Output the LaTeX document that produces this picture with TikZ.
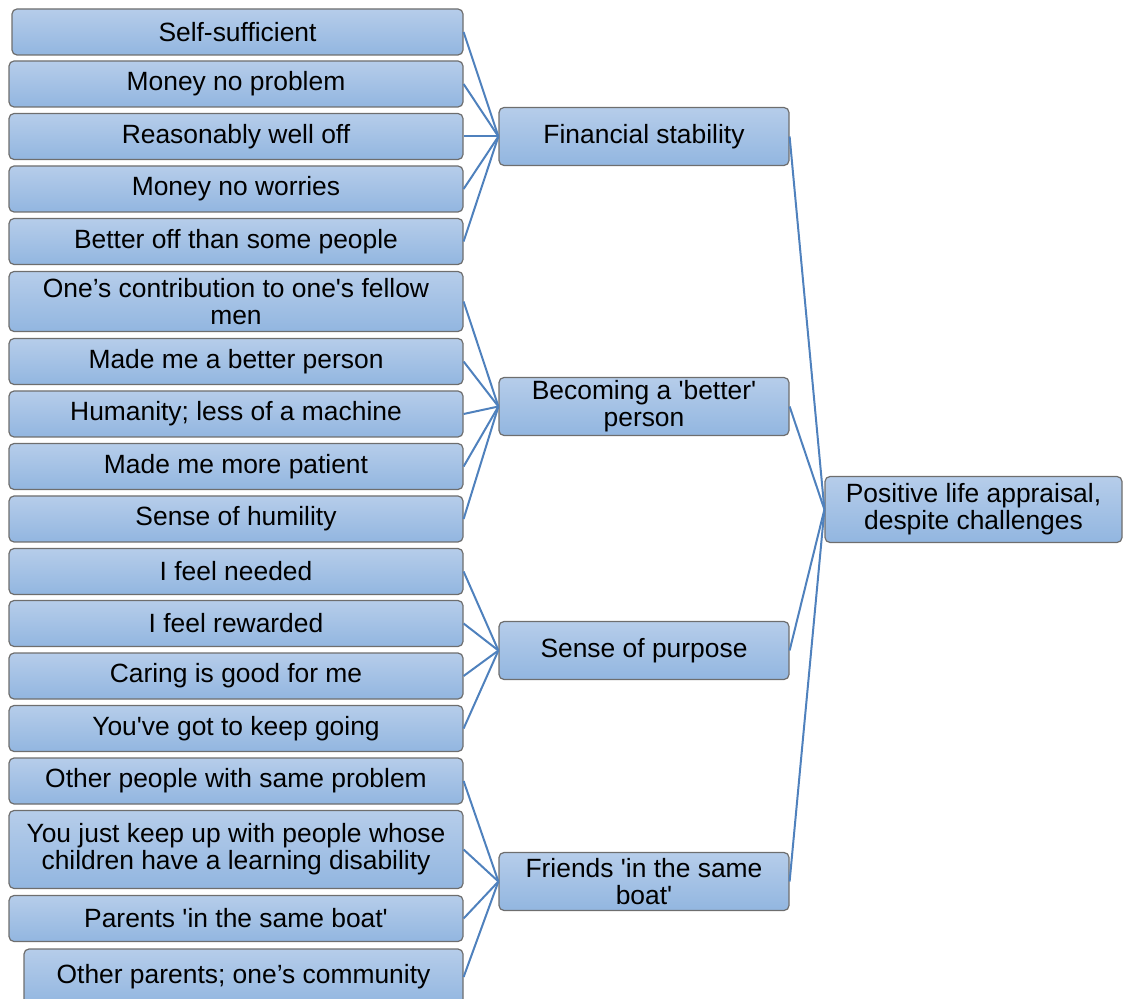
\documentclass[tikz,border=0pt]{standalone}
\usepackage{fontspec}
\setmainfont{Liberation Sans}
\newcommand\sq{\textquotesingle}
\definecolor{linkblue}{RGB}{79,129,189}
\definecolor{boxtop}{RGB}{182,205,234}
\definecolor{boxbot}{RGB}{146,182,224}
\definecolor{boxedge}{RGB}{110,110,110}
\begin{document}
\begin{tikzpicture}[x=0.5pt,y=-0.5pt,
  card/.style={draw=boxedge, line width=0.6pt, rounded corners=2.5pt,
    top color=boxtop, bottom color=boxbot, inner sep=0pt, align=center,
    font=\fontsize{13.2}{13.6}\selectfont},
  leaf/.style={card, minimum width=227pt, minimum height=23pt},
  theme/.style={card, minimum width=145pt, minimum height=29pt},
  link/.style={draw=linkblue, line width=1pt}]
\useasboundingbox (0,0) rectangle (1124,999);

% leaves
\node[leaf, minimum width=225.5pt] (l1) at (237.5,32) {Self-sufficient};
\node[leaf] (l2) at (236,84) {Money no problem};
\node[leaf] (l3) at (236,136.5) {Reasonably well off};
\node[leaf] (l4) at (236,189) {Money no worries};
\node[leaf] (l5) at (236,241.5) {Better off than some people};
\node[leaf, minimum height=30pt] (l6) at (236,301.5) {One’s contribution to one\sq s fellow\\men};
\node[leaf] (l7) at (236,361.5) {Made me a better person};
\node[leaf] (l8) at (236,414) {Humanity; less of a machine};
\node[leaf] (l9) at (236,466.5) {Made me more patient};
\node[leaf] (l10) at (236,519) {Sense of humility};
\node[leaf] (l11) at (236,571.5) {I feel needed};
\node[leaf] (l12) at (236,623.5) {I feel rewarded};
\node[leaf] (l13) at (236,676) {Caring is good for me};
\node[leaf] (l14) at (236,728.5) {You\sq ve got to keep going};
\node[leaf] (l15) at (236,781) {Other people with same problem};
\node[leaf, minimum height=39pt] (l16) at (236,849.5) {You just keep up with people whose\\children have a learning disability};
\node[leaf] (l17) at (236,918.5) {Parents \sq in the same boat\sq};
\node[leaf, minimum width=219.5pt, minimum height=28pt] (l18) at (243.5,977) {Other parents; one’s community};

% themes
\node[theme] (t1) at (644,136.5) {Financial stability};
\node[theme] (t2) at (644,406.5) {Becoming a \sq better\sq\\person};
\node[theme] (t3) at (644,650.5) {Sense of purpose};
\node[theme] (t4) at (644,881.5) {Friends \sq in the same\\boat\sq};

% overall appraisal
\node[card, minimum width=148.5pt, minimum height=33pt] (root) at (973.5,509.5) {Positive life appraisal,\\despite challenges};

% connectors
\foreach \i in {1,...,5} \draw[link] (l\i.east) -- (t1.west);
\foreach \i in {6,...,10} \draw[link] (l\i.east) -- (t2.west);
\foreach \i in {11,...,14} \draw[link] (l\i.east) -- (t3.west);
\foreach \i in {15,...,18} \draw[link] (l\i.east) -- (t4.west);
\foreach \i in {1,...,4} \draw[link] (t\i.east) -- (root.west);
\end{tikzpicture}
\end{document}
